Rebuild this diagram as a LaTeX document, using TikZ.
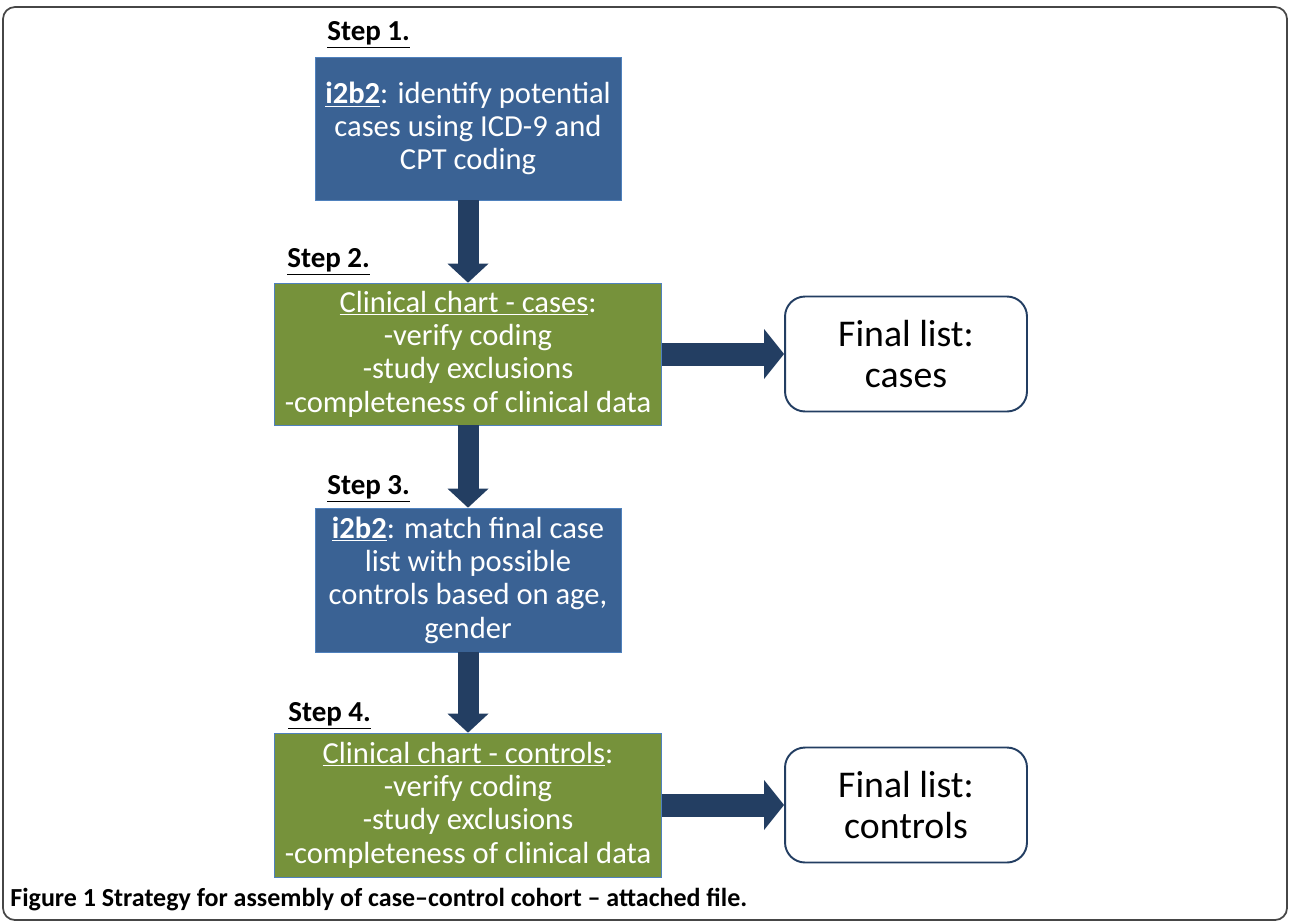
\documentclass[tikz,border=0pt]{standalone}
\usepackage{fontspec}
\setmainfont{Carlito}
\usepackage{tikz}
\usetikzlibrary{arrows.meta}
\definecolor{boxblue}{RGB}{58,98,148}
\definecolor{boxgreen}{RGB}{118,146,59}
\definecolor{boxedge}{RGB}{79,129,189}
\definecolor{arrowblue}{RGB}{35,62,98}
\definecolor{framegray}{RGB}{70,70,70}
\tikzset{
  bluebox/.style={draw=boxedge,fill=boxblue,text=white,align=center,inner sep=0pt,
    font=\fontsize{17.4}{19}\selectfont,minimum width=6.12cm,minimum height=2.86cm},
  greenbox/.style={bluebox,fill=boxgreen,minimum width=7.74cm,minimum height=2.84cm},
  finalbox/.style={draw=arrowblue,line width=1.1pt,rounded corners=0.4cm,fill=white,
    align=center,font=\fontsize{21.5}{23}\selectfont,minimum width=4.84cm,minimum height=2.3cm},
  steplabel/.style={anchor=west,inner sep=0pt,font=\bfseries\fontsize{16.5}{18}\selectfont},
  flowarrow/.style={draw=arrowblue,line width=0.42cm,
    -{Triangle[length=0.38cm,width=0.82cm,line width=0pt]}},
  sidearrow/.style={draw=arrowblue,line width=0.46cm,
    -{Triangle[length=0.4cm,width=1.0cm,line width=0pt]}}
}

\begin{document}
\begin{tikzpicture}[x=0.02cm,y=-0.02cm]
  \useasboundingbox (0,0) rectangle (1290,923);
  \draw[framegray,line width=1pt,rounded corners=0.24cm] (3,7) rectangle (1287,920);

  \node[steplabel](step1) at (327,35) {\underline{Step 1.}};
  \node[steplabel](step2) at (287,262) {\underline{Step 2.}};
  \node[steplabel](step3) at (327,489) {\underline{Step 3.}};
  \node[steplabel](step4) at (288,716) {\underline{Step 4.}};

  \node[bluebox](box1) at (468,128.5)
    {\underline{\textbf{i2b2}}: identify potential\\cases using ICD-9 and\\CPT coding};
  \node[greenbox](box2) at (468,354)
    {\underline{Clinical chart - cases}:\\-verify coding\\-study exclusions\\-completeness of clinical data};
  \node[bluebox,minimum height=2.88cm](box3) at (468,580)
    {\underline{\textbf{i2b2}}: match final case\\list with possible\\controls based on age,\\gender};
  \node[greenbox,minimum height=2.88cm](box4) at (468,805)
    {\underline{Clinical chart - controls}:\\-verify coding\\-study exclusions\\-completeness of clinical data};

  \node[finalbox](final1) at (906,354) {Final list:\\cases};
  \node[finalbox](final2) at (906,805) {Final list:\\controls};

  \draw[flowarrow] (box1) -- (box2);
  \draw[flowarrow] (box2) -- (box3);
  \draw[flowarrow] (box3) -- (box4);
  \draw[sidearrow] (box2) -- (final1);
  \draw[sidearrow] (box4) -- (final2);

  \node[anchor=base west,inner sep=0pt,font=\bfseries\fontsize{14.8}{16}\selectfont](caption)
    at (10,906) {Figure 1 Strategy for assembly of case–control cohort – attached file.};
\end{tikzpicture}
\end{document}
